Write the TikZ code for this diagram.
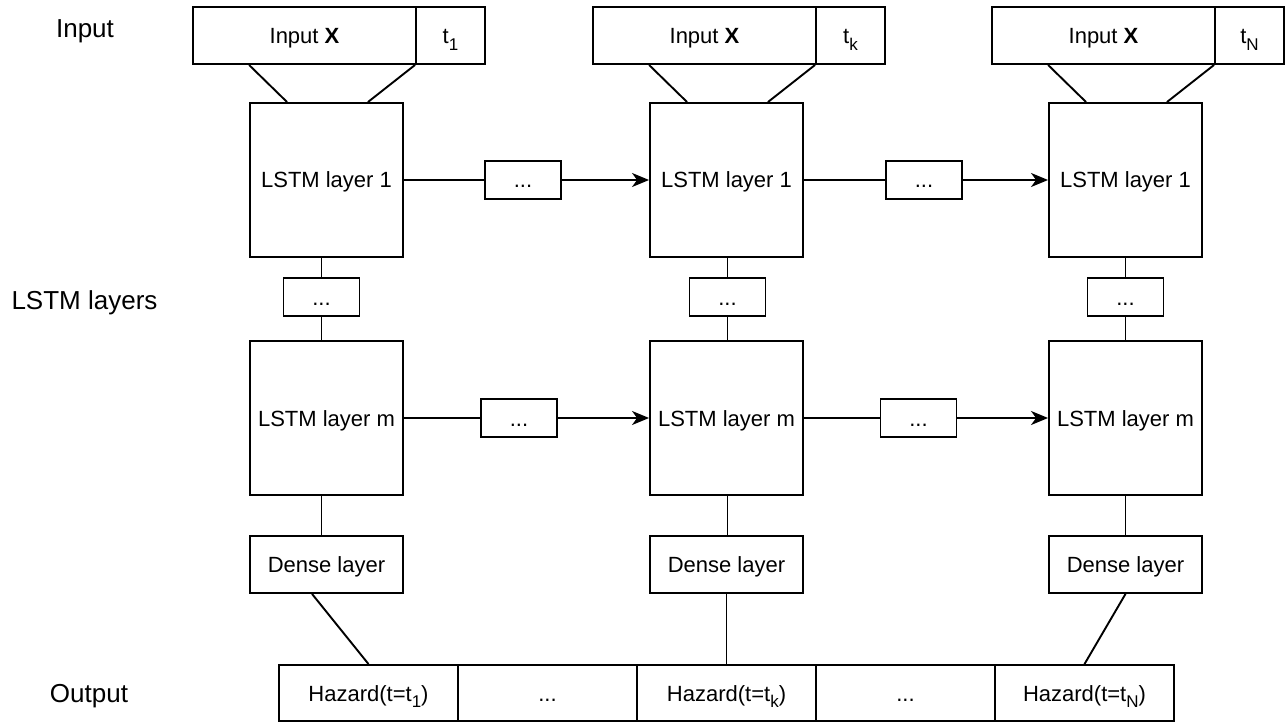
\documentclass[tikz,border=0pt]{standalone}
\usepackage{fontspec}
\setmainfont{Liberation Sans}
\usetikzlibrary{arrows.meta,calc}
% lowered index, as in t_1
\newcommand\lowidx[1]{\raisebox{-0.3em}{\fontsize{17}{17}\selectfont #1}}
\begin{document}
\begin{tikzpicture}[x=1pt,y=-1pt,
  every node/.style={font=\fontsize{22}{26}\selectfont},
  wire/.style={line width=1.9pt},
  arr/.style={wire,-{Stealth[length=17pt,width=14pt,inset=5pt]}},
  blk/.style={draw,line width=1.9pt,inner sep=0pt,text height=16pt,text depth=0pt,align=center},
  inbox/.style={blk,minimum width=223pt,minimum height=57pt},
  tbox/.style={blk,minimum width=69pt,minimum height=57pt},
  lstm/.style={blk,minimum width=153pt,minimum height=154pt},
  gap/.style={blk,minimum width=76pt,minimum height=38pt},
  dense/.style={blk,minimum width=153pt,minimum height=57pt},
  haz/.style={blk,minimum width=179pt,minimum height=56pt},
  side/.style={font=\fontsize{26}{30}\selectfont,anchor=base}]
\useasboundingbox (0,0) rectangle (1285,722);

% row labels
\node[side] (lin)  at (85,38)    {Input};
\node[side] (llst) at (84.5,309) {LSTM layers};
\node[side] (lout) at (89,702)   {Output};

% one column per time step
\foreach \i/\dx/\sx/\tl in {1/0/-5/1, 2/400/1/k, 3/799/0/N}{
  \node[inbox] (in\i) at (304.5+\dx,35.5) {Input \textbf{X}};
  \node[tbox]  (t\i)  at (450.5+\dx,35.5) {t\lowidx{\tl}};
  \node[lstm]  (l\i)  at (326.5+\dx,180)  {LSTM layer 1};
  \node[gap]   (s\i)  at (326.5+\dx+\sx,297) {...};
  \node[lstm]  (m\i)  at (326.5+\dx,418)  {LSTM layer m};
  \node[dense] (d\i)  at (326.5+\dx,564.5) {Dense layer};
  \draw[wire] ($(in\i.south west)+(57,0)$) -- ($(l\i.north west)+(38,0)$);
  \draw[wire] (t\i.south west) -- ($(l\i.north east)+(-36,0)$);
  \draw[wire] (s\i.north) -- (s\i.north |- l\i.south);
  \draw[wire] (s\i.south) -- (s\i.south |- m\i.north);
  \draw[wire] (m\i.south -| s\i) -- (d\i.north -| s\i);
}

% recurrent links between time steps
\node[gap] (a1) at (523,180) {...};
\node[gap] (a2) at (924,180) {...};
\node[gap] (b1) at (519,418) {...};
\node[gap] (b2) at (918.5,418) {...};
\draw[wire] (l1.east) -- (a1.west);
\draw[arr]  (a1.east) -- (l2.west);
\draw[wire] (l2.east) -- (a2.west);
\draw[arr]  (a2.east) -- (l3.west);
\draw[wire] (m1.east) -- (b1.west);
\draw[arr]  (b1.east) -- (m2.west);
\draw[wire] (m2.east) -- (b2.west);
\draw[arr]  (b2.east) -- (m3.west);

% output row
\node[haz] (h1) at (368.5,693)  {Hazard(t=t\lowidx{1})};
\node[haz] (h2) at (547.5,693)  {...};
\node[haz] (h3) at (726.5,693)  {Hazard(t=t\lowidx{k})};
\node[haz] (h4) at (905.5,693)  {...};
\node[haz] (h5) at (1084.5,693) {Hazard(t=t\lowidx{N})};

\draw[wire] ($(d1.south west)+(63,0)$) -- (h1.north);
\draw[wire] (d2.south) -- (h3.north);
\draw[wire] (d3.south) -- (h5.north);
\end{tikzpicture}
\end{document}
